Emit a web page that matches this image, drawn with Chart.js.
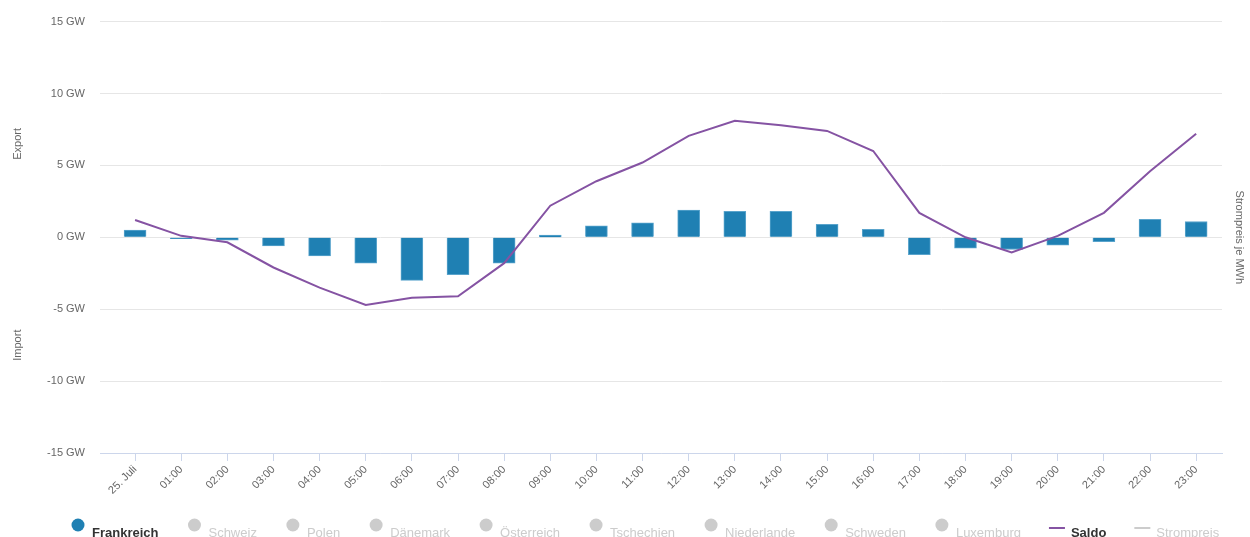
<!DOCTYPE html>
<html>
<head>
<meta charset="utf-8">
<script src="https://cdn.jsdelivr.net/npm/chart.js@4"></script>
<style>
  html, body { margin: 0; padding: 0; background: #fff; }
  #wrap { width: 1250px; height: 537px; position: relative; }
</style>
</head>
<body>
<div id="wrap"><canvas id="chart"></canvas></div>
<script>
// Kategorien (Stunden)
const hours = ['25. Juli', '01:00', '02:00', '03:00', '04:00', '05:00', '06:00', '07:00',
  '08:00', '09:00', '10:00', '11:00', '12:00', '13:00', '14:00', '15:00',
  '16:00', '17:00', '18:00', '19:00', '20:00', '21:00', '22:00', '23:00'];

// Frankreich (GW)
const frankreich = [0.5, -0.1, -0.2, -0.6, -1.3, -1.8, -3.0, -2.6,
  -1.8, 0.15, 0.8, 1.0, 1.9, 1.8, 1.8, 0.9,
  0.55, -1.2, -0.75, -0.85, -0.55, -0.3, 1.25, 1.1];

// Saldo (GW)
const saldo = [1.2, 0.1, -0.35, -2.1, -3.5, -4.7, -4.2, -4.1,
  -1.8, 2.2, 3.9, 5.2, 7.05, 8.1, 7.8, 7.4,
  6.0, 1.7, 0.0, -1.05, 0.1, 1.7, 4.6, 7.2];

const yTicks = [-15, -10, -5, 0, 5, 10, 15];

// Legende
const legendNames = ['Frankreich', 'Schweiz', 'Polen', 'Dänemark', 'Österreich', 'Tschechien',
  'Niederlande', 'Schweden', 'Luxemburg', 'Saldo', 'Strompreis'];
const legendTypes = ['dot', 'dot', 'dot', 'dot', 'dot', 'dot', 'dot', 'dot', 'dot', 'line', 'line'];
const legendActive = [true, false, false, false, false, false, false, false, false, true, false];

const BAR_COLOR = '#1f80b3';
const LINE_COLOR = '#8553a3';
const FONT = '"Liberation Sans", Arial, sans-serif';

const sideTitles = {
  id: 'sideTitles',
  afterDraw(chart) {
    const ctx = chart.ctx;
    const y = chart.scales.y;
    ctx.save();
    ctx.font = '11px ' + FONT;
    ctx.fillStyle = '#666';
    ctx.textAlign = 'center';
    ctx.textBaseline = 'middle';
    [['Export', 6.5], ['Import', -7.5]].forEach(([t, v]) => {
      ctx.save();
      ctx.translate(18, y.getPixelForValue(v));
      ctx.rotate(-Math.PI / 2);
      ctx.fillText(t, 0, 0);
      ctx.restore();
    });
    ctx.restore();
  }
};

const bottomLegend = {
  id: 'bottomLegend',
  afterDraw(chart) {
    const ctx = chart.ctx;
    ctx.save();
    let x = 70;
    const baseY = 537;
    legendNames.forEach((name, i) => {
      const active = legendActive[i];
      const col = active ? (legendTypes[i] === 'dot' ? BAR_COLOR : LINE_COLOR) : '#cccccc';
      if (legendTypes[i] === 'dot') {
        ctx.beginPath();
        ctx.arc(x + 8, 525, 6.5, 0, Math.PI * 2);
        ctx.fillStyle = col;
        ctx.fill();
      } else {
        ctx.beginPath();
        ctx.moveTo(x, 528);
        ctx.lineTo(x + 16, 528);
        ctx.strokeStyle = col;
        ctx.lineWidth = 2;
        ctx.stroke();
      }
      ctx.font = (active ? 'bold ' : '') + '13px ' + FONT;
      ctx.fillStyle = active ? '#333333' : '#cccccc';
      ctx.textAlign = 'left';
      ctx.textBaseline = 'alphabetic';
      ctx.fillText(name, x + 22, baseY);
      x += 22 + ctx.measureText(name).width + 28;
    });
    ctx.restore();
  }
};

const ctx = document.getElementById('chart').getContext('2d');
new Chart(ctx, {
  type: 'bar',
  data: {
    datasets: [{
      type: 'line',
      label: 'Saldo',
      data: saldo.map((v, i) => ({ x: i, y: v })),
      borderColor: LINE_COLOR,
      borderWidth: 2,
      pointRadius: 0,
      tension: 0,
      order: 0
    }, {
      label: 'Frankreich',
      data: frankreich.map((v, i) => ({ x: i, y: v })),
      backgroundColor: BAR_COLOR,
      borderColor: '#5aa4cc',
      borderWidth: 1,
      barThickness: 22,
      order: 1
    }]
  },
  options: {
    responsive: true,
    maintainAspectRatio: false,
    animation: false,
    layout: { padding: { top: 20, left: 0, right: 0, bottom: 0 } },
    plugins: {
      legend: { display: false },
      tooltip: { enabled: false }
    },
    scales: {
      x: {
        type: 'linear',
        bounds: 'data',
        offset: false,
        min: -0.76,
        max: 23.56,
        afterBuildTicks(scale) { scale.ticks = hours.map((_, i) => ({ value: i })); },
        grid: { offset: false, drawOnChartArea: false, drawTicks: true, tickLength: 8, color: '#ccd6eb' },
        border: { color: '#ccd6eb' },
        ticks: {
          autoSkip: false,
          maxRotation: 45,
          minRotation: 45,
          padding: 2,
          color: '#666',
          font: { size: 11, family: FONT },
          callback: (v) => hours[v]
        },
        afterFit(scale) { scale.height = 84; }
      },
      y: {
        position: 'left',
        min: -15,
        max: 15,
        afterBuildTicks(scale) { scale.ticks = yTicks.map(v => ({ value: v })); },
        grid: { color: '#e6e6e6', drawTicks: false },
        border: { display: false },
        ticks: {
          padding: 15,
          color: '#666',
          font: { size: 11, family: FONT },
          callback: (v) => v + ' GW'
        },
        afterFit(scale) { scale.width = 100; }
      },
      y2: {
        position: 'right',
        min: -15,
        max: 15,
        grid: { drawOnChartArea: false, drawTicks: false },
        border: { display: false },
        ticks: { display: false },
        title: {
          display: true,
          text: 'Strompreis je MWh',
          color: '#666',
          font: { size: 11, family: FONT },
          padding: 4
        },
        afterFit(scale) { scale.width = 28; }
      }
    }
  },
  plugins: [sideTitles, bottomLegend]
});
</script>
</body>
</html>
